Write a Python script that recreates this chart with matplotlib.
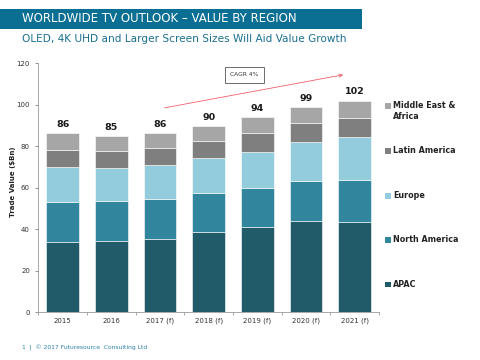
import numpy as np
import matplotlib
matplotlib.use('Agg')
import matplotlib.pyplot as plt
from matplotlib.patches import Rectangle

years = ['2015', '2016', '2017 (f)', '2018 (f)', '2019 (f)', '2020 (f)', '2021 (f)']
apac = [34.0, 34.2, 35.5, 38.7, 41.3, 44.0, 43.5]
north_america = [19.0, 19.6, 19.2, 18.6, 18.6, 19.3, 20.4]
europe = [17.0, 15.7, 16.3, 17.1, 17.5, 18.8, 20.4]
latin_america = [8.3, 8.4, 8.0, 8.2, 8.9, 9.0, 9.3]
mea = [8.0, 7.2, 7.3, 7.3, 7.7, 7.8, 8.4]
totals = [86, 85, 86, 90, 94, 99, 102]

series = [('APAC', apac, '#215a69'), ('North America', north_america, '#31869d'),
          ('Europe', europe, '#93cddd'), ('Latin America', latin_america, '#7f7f7f'),
          ('Middle East &\nAfrica', mea, '#a6a6a6')]

fig = plt.figure(figsize=(4.8, 3.6), dpi=100)
fig.patch.set_facecolor('white')

# title bar
fig.patches.append(Rectangle((0, 1 - 29/360), 362/480, 20/360, transform=fig.transFigure,
                             facecolor='#0b6f93', edgecolor='none', zorder=0))
fig.text(22/480, 1 - 19/360, 'WORLDWIDE TV OUTLOOK \u2013 VALUE BY REGION', color='white',
         fontsize=8.5, va='center', ha='left')
fig.text(22/480, 1 - 39/360, 'OLED, 4K UHD and Larger Screen Sizes Will Aid Value Growth',
         color='#1a6f93', fontsize=7.6, va='center', ha='left')
fig.text(22/480, 1 - 348/360, '1  |  \u00a9 2017 Futuresource  Consulting Ltd', color='#2a7fa8',
         fontsize=4.3, va='center', ha='left')

ax = fig.add_axes([38.3/480, 1 - 312.3/360, (379 - 38.3)/480, (312.3 - 63.3)/360])
x = np.arange(len(years))
bottom = np.zeros(len(years))
for name, vals, col in series:
    ax.bar(x, vals, 0.67, bottom=bottom, color=col, edgecolor='white', linewidth=0.4, label=name)
    bottom += np.array(vals)

for xi, t, top in zip(x, totals, bottom):
    ax.text(xi, top + 2, str(t), ha='center', va='bottom', fontsize=6.8, fontweight='bold', color='#1a1a1a')

ax.set_xlim(-0.5, len(years) - 0.5)
ax.set_ylim(0, 120)
ax.set_yticks(range(0, 121, 20))
ax.set_xticks(x)
ax.set_xticklabels(years)
ax.set_xticks(np.arange(-0.5, len(years), 1), minor=True)
ax.tick_params(axis='x', which='major', length=0, labelsize=5, pad=4, colors='#333333')
ax.tick_params(axis='x', which='minor', length=2.5, color='#999999', direction='out')
ax.tick_params(axis='y', labelsize=5, length=2.5, color='#999999', labelcolor='#333333')
for s in ['top', 'right']:
    ax.spines[s].set_visible(False)
for s in ['left', 'bottom']:
    ax.spines[s].set_color('#999999')
    ax.spines[s].set_linewidth(0.6)
fig.text(13.5/480, 1 - 182/360, 'Trade Value ($Bn)', fontsize=5, fontweight='bold', color='#222222',
         rotation=90, ha='center', va='center')

# CAGR arrow and box
ax.annotate('', xy=(5.82, 114.7), xytext=(2.04, 98.3),
            arrowprops=dict(arrowstyle='->', color='#f0606a', lw=0.6, mutation_scale=6))
ax.text(3.74, 114.4, 'CAGR 4%', ha='center', va='center', fontsize=4.3, color='#333333',
        bbox=dict(boxstyle='square,pad=0.9', facecolor='white', edgecolor='#555555', linewidth=0.6))

# legend
leg_y = [106, 150.7, 195.7, 240, 284.3]
for (name, vals, col), yy in zip(series[::-1], leg_y):
    fig.patches.append(Rectangle((385/480, 1 - (yy + 2.8)/360), 5.5/480, 5.5/360,
                                 transform=fig.transFigure, facecolor=col, edgecolor='none'))
    if '\n' in name:
        fig.text(393/480, 1 - (yy - 4.5)/360, name, fontsize=5.8, fontweight='bold', color='#222222',
                 va='top', ha='left', linespacing=1.15)
    else:
        fig.text(393/480, 1 - yy/360, name, fontsize=5.8, fontweight='bold', color='#222222',
                 va='center', ha='left')

fig.savefig('out.png', dpi=100)
